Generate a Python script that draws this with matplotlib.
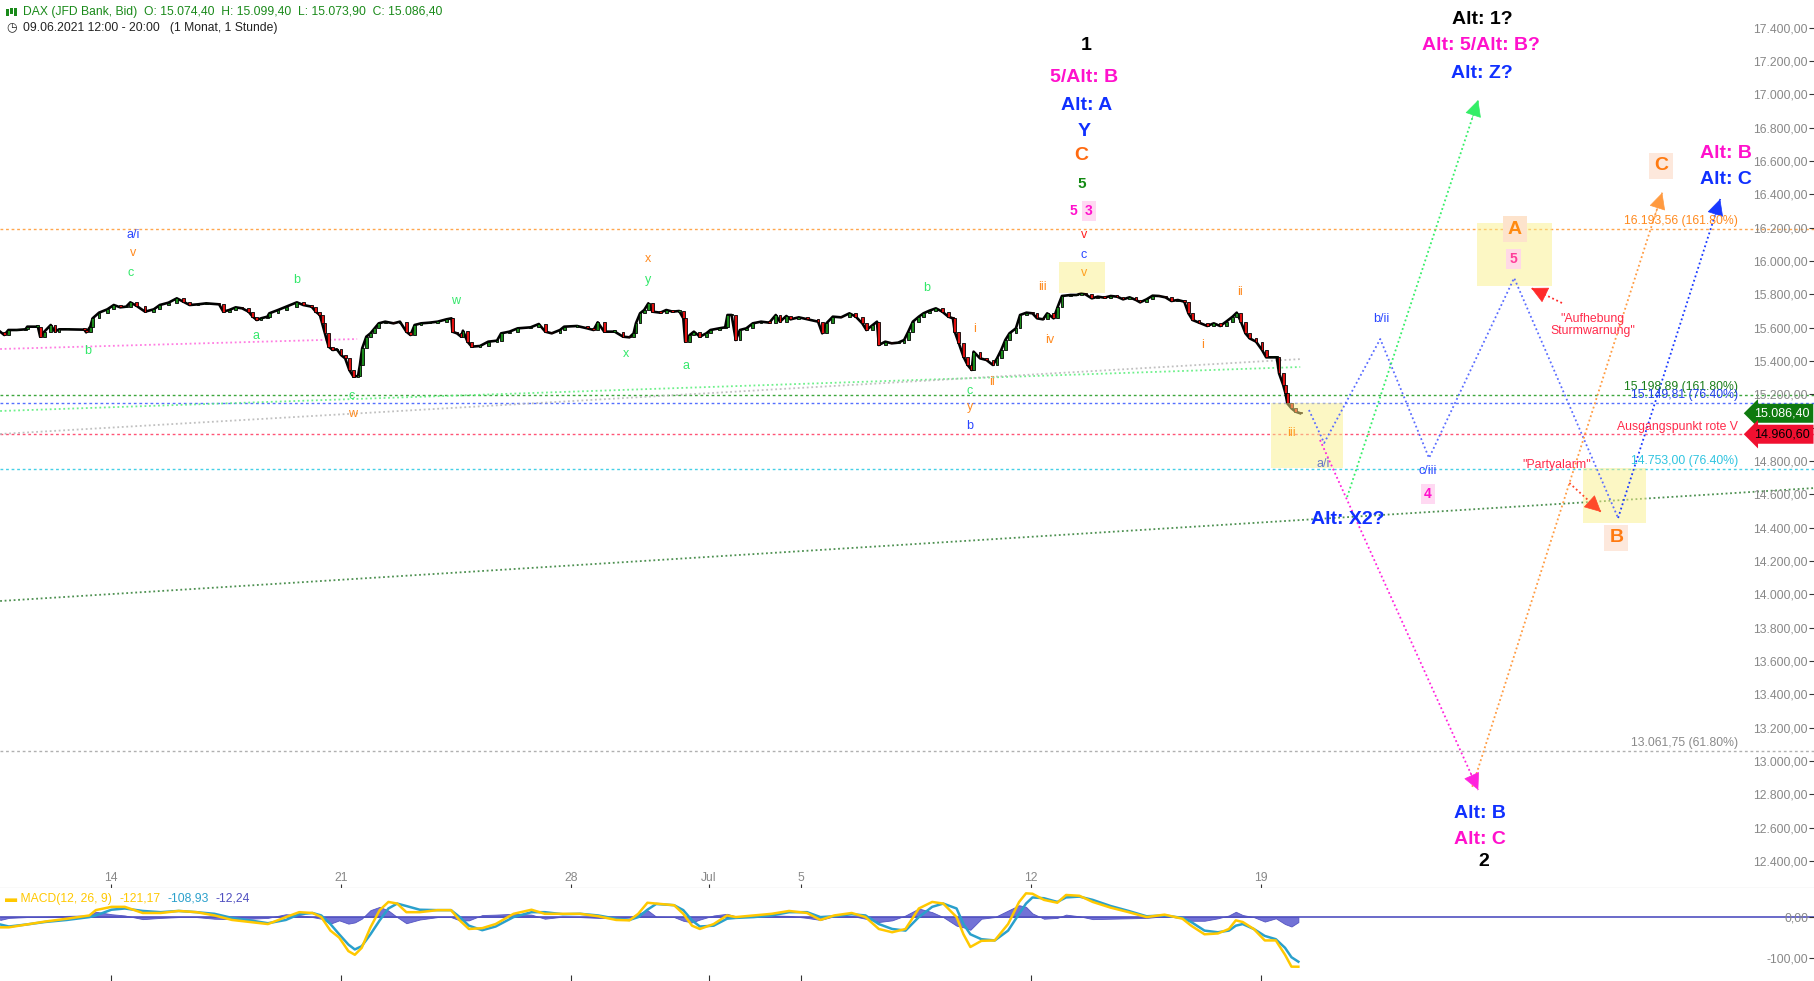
import matplotlib
matplotlib.use("Agg")
import matplotlib.pyplot as plt
from matplotlib.patches import Rectangle
from matplotlib.ticker import FuncFormatter
from matplotlib.offsetbox import TextArea, HPacker, AnchoredOffsetbox

plt.rcParams['font.family'] = ['Liberation Sans', 'DejaVu Sans']

# x axis in trading days, 0 = Mon 14.06.2021 (weekends skipped)
price_points = [
    (-2.41, 15576), (-2.32, 15556), (-2.23, 15586), (-2.05, 15586), (-1.86, 15590), (-1.82, 15606),
    (-1.59, 15606), (-1.54, 15546), (-1.45, 15576), (-1.31, 15616), (-1.22, 15576), (-1.13, 15590),
    (-0.95, 15590), (-0.58, 15588), (-0.54, 15572), (-0.45, 15606), (-0.40, 15656), (-0.26, 15690),
    (-0.08, 15710), (0.06, 15736), (0.20, 15722), (0.33, 15726), (0.42, 15752), (0.56, 15730),
    (0.74, 15696), (0.93, 15710), (1.06, 15736), (1.25, 15750), (1.43, 15776), (1.57, 15756),
    (1.71, 15736), (1.89, 15740), (2.07, 15746), (2.35, 15740), (2.44, 15696), (2.57, 15706),
    (2.71, 15722), (2.85, 15716), (2.99, 15696), (3.08, 15666), (3.17, 15646), (3.26, 15656),
    (3.40, 15666), (3.44, 15686), (3.63, 15706), (3.81, 15726), (4.04, 15752), (4.18, 15736),
    (4.36, 15726), (4.45, 15696), (4.54, 15676), (4.59, 15626), (4.65, 15566), (4.73, 15486),
    (4.82, 15466), (4.91, 15470), (5.00, 15436), (5.09, 15416), (5.18, 15346), (5.27, 15306),
    (5.37, 15310), (5.41, 15376), (5.46, 15476), (5.55, 15546), (5.64, 15566), (5.73, 15596),
    (5.82, 15626), (5.96, 15636), (6.14, 15626), (6.28, 15636), (6.42, 15576), (6.51, 15556),
    (6.60, 15616), (6.74, 15626), (6.92, 15630), (7.10, 15636), (7.29, 15650), (7.40, 15656),
    (7.42, 15576), (7.52, 15566), (7.61, 15546), (7.65, 15582), (7.75, 15516), (7.84, 15486),
    (8.02, 15490), (8.20, 15516), (8.39, 15522), (8.48, 15566), (8.66, 15576), (8.84, 15596),
    (9.12, 15602), (9.30, 15622), (9.44, 15576), (9.58, 15566), (9.76, 15586), (9.85, 15606),
    (10.13, 15610), (10.35, 15596), (10.49, 15586), (10.58, 15632), (10.72, 15576), (10.95, 15576),
    (11.13, 15546), (11.27, 15542), (11.36, 15566), (11.41, 15626), (11.50, 15686), (11.59, 15706),
    (11.68, 15746), (11.77, 15696), (11.94, 15690), (12.07, 15706), (12.21, 15696), (12.35, 15700),
    (12.44, 15656), (12.48, 15516), (12.58, 15556), (12.67, 15576), (12.80, 15546), (12.94, 15566),
    (13.03, 15586), (13.22, 15596), (13.35, 15602), (13.40, 15676), (13.49, 15676), (13.58, 15526),
    (13.67, 15586), (13.81, 15596), (13.95, 15626), (14.13, 15636), (14.31, 15630), (14.45, 15676),
    (14.54, 15636), (14.68, 15670), (14.77, 15650), (14.95, 15662), (15.14, 15650), (15.37, 15636),
    (15.46, 15566), (15.55, 15626), (15.69, 15666), (15.87, 15662), (16.05, 15686), (16.19, 15666),
    (16.33, 15626), (16.42, 15586), (16.56, 15616), (16.65, 15636), (16.69, 15496), (16.83, 15516),
    (16.97, 15506), (17.11, 15510), (17.24, 15526), (17.33, 15576), (17.43, 15636), (17.56, 15666),
    (17.66, 15686), (17.79, 15702), (17.93, 15716), (18.07, 15696), (18.20, 15666), (18.30, 15656),
    (18.34, 15576), (18.43, 15506), (18.53, 15426), (18.62, 15376), (18.71, 15346), (18.75, 15456),
    (18.89, 15416), (19.03, 15406), (19.17, 15376), (19.26, 15416), (19.35, 15466), (19.44, 15526),
    (19.53, 15566), (19.67, 15596), (19.76, 15676), (19.90, 15690), (20.03, 15686), (20.13, 15656),
    (20.26, 15650), (20.35, 15686), (20.49, 15656), (20.58, 15726), (20.67, 15790), (20.86, 15796),
    (20.99, 15796), (21.09, 15806), (21.18, 15800), (21.32, 15776), (21.45, 15786), (21.59, 15780),
    (21.73, 15790), (21.87, 15786), (22.00, 15770), (22.14, 15782), (22.28, 15766), (22.37, 15752),
    (22.51, 15770), (22.64, 15792), (22.78, 15790), (22.92, 15782), (23.05, 15760), (23.19, 15766),
    (23.33, 15756), (23.42, 15686), (23.51, 15646), (23.65, 15630), (23.83, 15610), (23.97, 15626),
    (24.11, 15610), (24.24, 15636), (24.38, 15666), (24.47, 15690), (24.56, 15636), (24.66, 15566),
    (24.75, 15536), (24.89, 15516), (25.02, 15466), (25.11, 15422), (25.25, 15422), (25.34, 15422),
    (25.39, 15326), (25.48, 15256), (25.53, 15206), (25.57, 15146), (25.66, 15116), (25.75, 15096),
    (25.85, 15086.4),
]

# (t, MACD, signal)
macd_points = [
    (-2.41, -25, -18), (-2.22, -25, -23), (-1.83, -18, -18), (-1.44, -11, -12), (-0.96, -4, -7),
    (-0.47, 4, 0), (-0.33, 17, 4), (0.01, 25, 18), (0.30, 25, 21), (0.69, 10, 15),
    (1.08, 10, 12), (1.47, 15, 15), (1.86, 12, 12), (2.25, 4, 8), (2.63, -7, -2),
    (3.02, -12, -8), (3.41, -17, -15), (3.80, 0, -7), (4.09, 12, 7), (4.38, 10, 10),
    (4.57, 0, 4), (4.77, -33, -17), (4.96, -50, -42), (5.16, -83, -67), (5.30, -92, -79),
    (5.45, -75, -71), (5.64, -25, -42), (5.84, 17, -8), (6.03, 37, 21), (6.22, 33, 33),
    (6.42, 12, 27), (6.71, 12, 18), (7.10, 17, 17), (7.39, 17, 17), (7.58, -8, 0),
    (7.78, -29, -21), (8.07, -27, -32), (8.36, -17, -23), (8.75, 8, 0), (9.14, 18, 12),
    (9.43, 8, 12), (9.82, 8, 7), (10.20, 8, 8), (10.59, 2, 4), (10.98, -7, -4),
    (11.27, -8, -7), (11.46, 8, 0), (11.66, 35, 18), (11.85, 33, 32), (12.24, 29, 29),
    (12.44, 8, 17), (12.63, -21, -8), (12.80, -29, -23), (13.10, -17, -21), (13.39, 4, -4),
    (13.58, 0, -2), (13.97, 4, 0), (14.36, 8, 4), (14.74, 15, 12), (15.13, 10, 12),
    (15.42, -7, 0), (15.72, 4, 2), (16.10, 10, 7), (16.40, 0, 4), (16.69, -29, -17),
    (16.98, -37, -29), (17.27, -29, -33), (17.56, 21, 0), (17.85, 37, 25), (18.09, 33, 33),
    (18.38, 0, 21), (18.53, -42, -17), (18.68, -73, -42), (18.92, -58, -54), (19.21, -57, -57),
    (19.50, -17, -33), (19.74, 37, 8), (19.89, 58, 33), (20.03, 57, 48), (20.28, 42, 46),
    (20.57, 35, 37), (20.76, 54, 48), (21.05, 52, 50), (21.34, 37, 42), (21.73, 23, 27),
    (22.12, 12, 15), (22.51, 0, 2), (22.90, 6, 4), (23.29, -4, -2), (23.48, -21, -12),
    (23.77, -42, -33), (24.06, -40, -37), (24.30, -29, -33), (24.45, -8, -21), (24.60, -12, -17),
    (24.84, -29, -29), (25.08, -57, -46), (25.32, -57, -54), (25.52, -92, -75), (25.66, -121, -98),
    (25.81, -121.17, -108.93),
]

date_ticks = [0, 5, 10, 13, 15, 20, 25]
date_labels = ['14', '21', '28', 'Jul', '5', '12', '19']

fib_levels = [16193.56, 15198.89, 15149.81, 14960.60, 14753.00, 13061.75]
fib_texts = ['16.193,56 (161.80%)', '15.198,89 (161.80%)', '15.149,81 (76.40%)',
             'Ausgangspunkt rote V', '14.753,00 (76.40%)', '13.061,75 (61.80%)']
fib_line_colors = ['#ffa64d', '#3da63d', '#5570ff', '#ff5577', '#45d0e6', '#b0b0b0']
fib_text_colors = ['#ff8a1f', '#1a7f1a', '#2040e8', '#ff2a4a', '#30c4e0', '#8a8a8a']

# sloped trend lines (t0, p0, t1, p1)
trend_lines = [
    ((-2.41, 15472, 5.35, 15532), '#ff66dd'),
    ((-2.41, 15100, 25.85, 15364), '#55ee77'),
    ((-2.41, 14962, 25.89, 15412), '#b5b5b5'),
    ((-2.41, 13960, 37.04, 14638), '#2e7d32'),
]

# projected wave path
proj_t = [26.04, 26.37, 27.59, 28.65, 30.50, 32.76, 34.98]
proj_p = [15106, 14908, 15532, 14818, 15898, 14458, 16372]

alt_paths = [
    ((26.87, 14584, 29.72, 16966), '#33ee66'),
    ((26.28, 14926, 29.72, 12826), '#ff22dd'),
    ((29.59, 12845, 33.72, 16410), '#ff9a40'),
]

# highlighted zones (t0, t1, p0, p1)
zones = [(20.61, 21.61, 15808, 15994), (25.22, 26.78, 14758, 15148),
         (29.70, 31.33, 15850, 16228), (32.00, 33.37, 14428, 14758)]

# big wave labels (text, t, price, color, size)
big_labels = [
    ('1', 21.2, 17290, 'black', 14), ('5/Alt: B', 21.15, 17098, '#ff11cc', 14),
    ('Alt: A', 21.2, 16936, '#1030ff', 14), ('Y', 21.15, 16780, '#1030ff', 14),
    ('C', 21.1, 16630, '#ff6a10', 14), ('5', 21.1, 16462, '#138a13', 11),
    ('Alt: 1?', 29.8, 17452, 'black', 14), ('Alt: 5/Alt: B?', 29.77, 17290, '#ff11cc', 14),
    ('Alt: Z?', 29.8, 17122, '#1030ff', 14),
    ('Alt: B', 35.1, 16642, '#ff11cc', 14), ('Alt: C', 35.1, 16492, '#1030ff', 14),
    ('Alt: X2?', 26.89, 14452, '#1030ff', 14),
    ('Alt: B', 29.76, 12688, '#1030ff', 14), ('Alt: C', 29.76, 12532, '#ff11cc', 14),
    ('2', 29.83, 12394, 'black', 14),
]
boxed_labels = [
    ('3', 21.26, 16300, '#ff11cc', 10, '#ffd9f2'), ('5', 30.48, 16012, '#ff3d9a', 10, '#ffd9e6'),
    ('4', 28.63, 14602, '#ff11cc', 10, '#ffd9f2'), ('A', 30.52, 16192, '#ff8a10', 14, '#fde3cc'),
    ('C', 33.70, 16570, '#ff7a10', 14, '#fde8dc'), ('B', 32.72, 14338, '#ff7a10', 14, '#fde8dc'),
]
bold_small = [('5', 20.91, 16300, '#ff11cc', 10)]

# small wave labels (text, t, price, color)
green = '#33e86a'
orange = '#ff8a1f'
blue = '#2a46ff'
small_labels = [
    ('a/i', 0.48, 16156, blue), ('v', 0.48, 16048, orange), ('c', 0.43, 15928, green),
    ('b', -0.5, 15460, green), ('a', 3.15, 15550, green), ('b', 4.04, 15886, green),
    ('c', 5.24, 15190, green), ('w', 5.24, 15082, orange), ('w', 7.48, 15760, green),
    ('x', 11.2, 15442, green), ('x', 11.67, 16012, orange), ('y', 11.67, 15886, green),
    ('a', 12.5, 15370, green), ('b', 17.72, 15838, green), ('i', 18.78, 15592, orange),
    ('ii', 19.15, 15274, orange), ('c', 18.67, 15220, green), ('y', 18.67, 15124, orange),
    ('b', 18.67, 15010, blue), ('iii', 20.24, 15844, orange), ('iv', 20.41, 15526, orange),
    ('ii', 24.54, 15814, orange), ('i', 23.72, 15496, orange),
    ('v', 21.15, 16156, '#ff2020'), ('c', 21.15, 16036, blue), ('v', 21.15, 15928, '#ffa020'),
    ('iii', 25.67, 14968, '#ff9a20'), ('a/i', 26.35, 14782, '#6a78c8'),
    ('b/ii', 27.61, 15652, blue), ('c/iii', 28.63, 14740, blue),
]

last_close = 15086.40
red_v = 14960.60


def de_fmt(v, pos=None):
    s = f"{v:,.2f}"
    return s.replace(',', 'X').replace('.', ',').replace('X', '.')


def axis_fmt(v, pos=None):
    # the 15.000 label sits under the price tags in the original
    if abs(v - 15000) < 1:
        return ''
    return de_fmt(v)


fig = plt.figure(figsize=(18.15, 9.81), dpi=100)
split = 1 - 888 / 981
ax = fig.add_axes([0, split, 1, 1 - split])
mac = fig.add_axes([0, 0, 1, split], sharex=ax)

x_min, x_max = -2.413, 37.04
ax.set_xlim(x_min, x_max)
ax.set_ylim(12238, 17566)

# horizontal fib lines + labels
for lvl, txt, lc, tc in zip(fib_levels, fib_texts, fib_line_colors, fib_text_colors):
    ax.axhline(lvl, color=lc, lw=1.0, ls=(0, (2, 2)), zorder=1)
    ax.annotate(txt, xy=(35.37, lvl), xytext=(0, 1), textcoords='offset points',
                ha='right', va='bottom', fontsize=8.8, color=tc, zorder=6)

for (t0, p0, t1, p1), c in trend_lines:
    ax.plot([t0, t1], [p0, p1], color=c, lw=1.3, ls=(0, (1, 1.5)), alpha=0.85, zorder=1)

# candles
pt = [p[0] for p in price_points]
pc = [p[1] for p in price_points]
ax.plot(pt, pc, color='black', lw=1.9, zorder=3)
for i in range(1, len(pt)):
    o, c = pc[i - 1], pc[i]
    col = '#1a8a1a' if c >= o else '#e01010'
    h = max(abs(c - o), 8)
    ax.add_patch(Rectangle((pt[i] - 0.03, min(o, c)), 0.06, h, fc=col, ec='black',
                           lw=0.6, zorder=3.5))

for t0, t1, p0, p1 in zones:
    ax.add_patch(Rectangle((t0, p0), t1 - t0, p1 - p0, fc='#fbf08a', ec='none',
                           alpha=0.5, zorder=4))


def arrow_line(t0, p0, t1, p1, color, head=True):
    ax.plot([t0, t1], [p0, p1], color=color, lw=1.3, ls=(0, (1, 1.5)), zorder=4.5)
    if head:
        ax.annotate('', xy=(t1, p1), xytext=(t1 - (t1 - t0) * 0.05, p1 - (p1 - p0) * 0.05),
                    arrowprops=dict(arrowstyle='-|>,head_length=0.9,head_width=0.45',
                                    color=color, lw=0.5, shrinkA=0, shrinkB=0,
                                    mutation_scale=12), zorder=5)


ax.plot(proj_t[:-1], proj_p[:-1], color='#5a6cff', lw=1.3, ls=(0, (1, 1.5)), zorder=4.5)
arrow_line(proj_t[-2], proj_p[-2], proj_t[-1], proj_p[-1], '#1838ff')
for (t0, p0, t1, p1), c in alt_paths:
    arrow_line(t0, p0, t1, p1, c)

# red remarks
arrow_line(31.54, 15748, 30.87, 15838, '#ff2a2a')
arrow_line(31.70, 14668, 32.39, 14494, '#ff4a2a')
ax.text(32.2, 15616, '"Aufhebung\nSturmwarnung"', ha='center', va='center', fontsize=8.8,
        color='#ff2a4a', linespacing=1.1, zorder=6)
ax.text(31.43, 14776, '"Partyalarm"', ha='center', va='center', fontsize=8.8,
        color='#ff2a4a', zorder=6)

for txt, t, p, c, s in big_labels:
    ax.text(t, p, txt, ha='center', va='center', fontsize=s, fontweight='bold', color=c, zorder=6)
for txt, t, p, c, s in bold_small:
    ax.text(t, p, txt, ha='center', va='center', fontsize=s, fontweight='bold', color=c, zorder=6)
for txt, t, p, c, s, bg in boxed_labels:
    ax.text(t, p, txt, ha='center', va='center', fontsize=s, fontweight='bold', color=c, zorder=6,
            bbox=dict(boxstyle='square,pad=0.25', fc=bg, ec='none'))
for txt, t, p, c in small_labels:
    ax.text(t, p, txt, ha='center', va='center', fontsize=9, color=c, zorder=6)

# price tags
ax.text(35.72, last_close, de_fmt(last_close), ha='left', va='center', fontsize=9,
        color='white', zorder=7, bbox=dict(boxstyle='larrow,pad=0.28', fc='#0f7a0f', ec='none'))
ax.text(35.72, red_v, de_fmt(red_v), ha='left', va='center', fontsize=9,
        color='black', zorder=7, bbox=dict(boxstyle='larrow,pad=0.28', fc='#f01030', ec='none'))

# axes styling
ax.set_yticks(range(12400, 17401, 200))
ax.yaxis.set_major_formatter(FuncFormatter(axis_fmt))
ax.yaxis.tick_right()
ax.tick_params(axis='y', direction='in', length=4, pad=-5, labelsize=8.7,
               labelcolor='#888888', color='#333333')
plt.setp(ax.get_yticklabels(), ha='right')
ax.set_xticks(date_ticks, date_labels)
ax.tick_params(axis='x', direction='in', length=3, pad=-11.5, labelsize=8.7,
               labelcolor='#888888', color='#333333')
for s in ['top', 'left', 'right']:
    ax.spines[s].set_visible(False)
ax.spines['bottom'].set_color('#999999')

# MACD panel
mt = [m[0] for m in macd_points]
mline = [m[1] for m in macd_points]
msig = [m[2] for m in macd_points]
mhist = [a - b for a, b in zip(mline, msig)]
mac.fill_between(mt, mhist, 0, color='#6a6ad4', alpha=0.95, lw=0.6, ec='#5050c0', zorder=1)
mac.axhline(0, color='#5050c0', lw=1.2, zorder=1)
mac.plot(mt, msig, color='#2aa0cc', lw=1.8, zorder=2)
mac.plot(mt, mline, color='#ffc800', lw=1.8, zorder=3)
mac.set_ylim(-156, 71)
mac.set_yticks([0, -100])
mac.yaxis.set_major_formatter(FuncFormatter(de_fmt))
mac.yaxis.tick_right()
mac.tick_params(axis='y', direction='in', length=4, pad=-5, labelsize=8.7,
                labelcolor='#888888', color='#333333')
plt.setp(mac.get_yticklabels(), ha='right')
mac.tick_params(axis='x', direction='in', length=4, labelbottom=False, color='#333333')
for s in ['top', 'left', 'right', 'bottom']:
    mac.spines[s].set_visible(False)

legend_parts = [('\u25ac MACD(12, 26, 9)', '#ffc800'), (de_fmt(mline[-1]), '#ffc800'),
                (de_fmt(msig[-1]), '#2aa0cc'), (de_fmt(mhist[-1]), '#5050c0')]
box = HPacker(children=[TextArea(t, textprops=dict(color=c, fontsize=8.7)) for t, c in legend_parts],
              sep=5, pad=0)
mac.add_artist(AnchoredOffsetbox(loc='upper left', child=box, pad=0, borderpad=0, frameon=False,
                                 bbox_to_anchor=(0.003, 0.95), bbox_transform=mac.transAxes))

# header
fig.text(0.0127, 1 - 12 / 981, 'DAX (JFD Bank, Bid)  O: 15.074,40  H: 15.099,40  L: 15.073,90  C: 15.086,40',
         ha='left', va='center', fontsize=8.7, color='#1a8a1a')
fig.text(0.0127, 1 - 28 / 981, '09.06.2021 12:00 - 20:00   (1 Monat, 1 Stunde)',
         ha='left', va='center', fontsize=8.7, color='#222222')
fig.text(0.0035, 1 - 28 / 981, '\u25f7', ha='left', va='center', fontsize=8.7, color='#222222',
         family='DejaVu Sans')
# small candle icon in the header
for k, (y0, h) in enumerate([(0.9840, 0.0070), (0.9855, 0.0060), (0.9835, 0.0085)]):
    fig.add_artist(Rectangle((0.0035 + k * 0.0022, y0), 0.0012, h, transform=fig.transFigure,
                             fc='#1a8a1a', ec='none'))

fig.savefig('out.png', dpi=100)
